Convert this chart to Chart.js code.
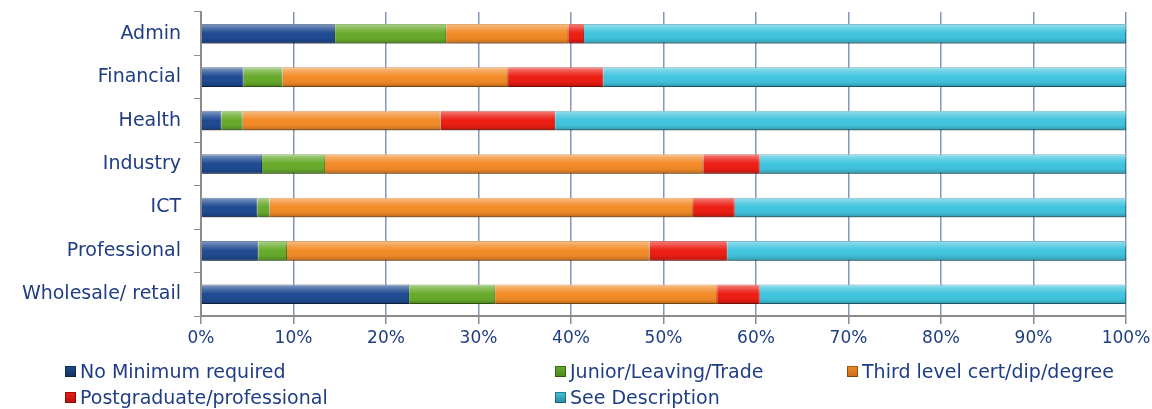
<!DOCTYPE html>
<html>
<head>
<meta charset="utf-8">
<script src="https://cdn.jsdelivr.net/npm/chart.js@4"></script>
<style>
  body { margin: 0; background: #fff; }
  #wrap { position: relative; width: 1152px; height: 409px; }
  .leg { position: absolute; font: 19px "DejaVu Sans", sans-serif; color: #1F3D85; white-space: nowrap; line-height: 22px; }
  .leg i { display: inline-block; width: 11px; height: 11px; margin-right: 4px; vertical-align: 1px; box-shadow: inset 0 0 0 1px rgba(0,0,0,0.35); }
</style>
</head>
<body>
<div id="wrap">
  <canvas id="chart"></canvas>
  <div id="legend"></div>
</div>
<script>
// categories (top to bottom)
const categories = ['Admin', 'Financial', 'Health', 'Industry', 'ICT', 'Professional', 'Wholesale/ retail'];

// series values in %
const noMinimum   = [14.5, 4.6, 2.2, 6.6, 6.1, 6.2, 22.5];
const juniorTrade = [12.0, 4.2, 2.3, 6.8, 1.3, 3.1, 9.3];
const thirdLevel  = [13.2, 24.4, 21.4, 40.9, 45.8, 39.2, 24.0];
const postgrad    = [1.7, 10.3, 12.4, 6.1, 4.5, 8.4, 4.6];
const seeDesc     = [58.6, 56.5, 61.7, 39.6, 42.3, 43.1, 39.6];

const seriesNames = ['No Minimum required', 'Junior/Leaving/Trade', 'Third level cert/dip/degree', 'Postgraduate/professional', 'See Description'];
const seriesColors = ['#1E4A92', '#66AA2A', '#F28A26', '#EC1C12', '#40C4DE'];
const seriesBorders = ['#14315F', '#4C8A1C', '#C86C14', '#B8140C', '#2A8CA4'];

const tickValues = [0, 10, 20, 30, 40, 50, 60, 70, 80, 90, 100];

const textColor = '#1F3D85';
const allSeries = [noMinimum, juniorTrade, thirdLevel, postgrad, seeDesc];

// bevel shading over each bar
const bevel = {
  id: 'bevel',
  beforeDatasetsDraw(chart) {
    chart.ctx.save();
    chart.ctx.shadowColor = 'rgba(0,0,0,0.25)';
    chart.ctx.shadowOffsetY = 4;
    chart.ctx.shadowBlur = 4;
  },
  afterDatasetsDraw(chart) {
    const ctx = chart.ctx;
    ctx.restore();
    chart.data.datasets.forEach((ds, i) => {
      chart.getDatasetMeta(i).data.forEach(bar => {
        const p = bar.getProps(['x', 'y', 'base', 'height'], true);
        const left = Math.min(p.x, p.base), w = Math.abs(p.x - p.base);
        const top = p.y - p.height / 2;
        const g = ctx.createLinearGradient(0, top, 0, top + p.height);
        g.addColorStop(0, 'rgba(255,255,255,0.45)');
        g.addColorStop(0.3, 'rgba(255,255,255,0.15)');
        g.addColorStop(0.5, 'rgba(255,255,255,0)');
        g.addColorStop(0.8, 'rgba(0,0,0,0.05)');
        g.addColorStop(1, 'rgba(0,0,0,0.25)');
        ctx.fillStyle = g;
        ctx.fillRect(left, top, w, p.height);
      });
    });
  }
};

new Chart(document.getElementById('chart'), {
  type: 'bar',
  data: {
    labels: categories,
    datasets: allSeries.map((vals, i) => ({
      label: seriesNames[i],
      data: vals,
      backgroundColor: seriesColors[i],
      borderColor: seriesBorders[i],
      borderWidth: 1,
      categoryPercentage: 1,
      barPercentage: 0.45
    }))
  },
  options: {
    indexAxis: 'y',
    responsive: true,
    maintainAspectRatio: false,
    animation: false,
    layout: { padding: { top: 12, right: 26, left: 0, bottom: 0 } },
    plugins: { legend: { display: false }, tooltip: { enabled: false } },
    scales: {
      x: {
        stacked: true,
        min: 0,
        max: 100,
        afterBuildTicks: s => { s.ticks = tickValues.map(v => ({ value: v })); },
        afterFit: s => { s.height = 93; s.paddingLeft = 0; s.paddingRight = 0; },
        grid: { color: '#8496BA', lineWidth: 1.5, tickColor: '#8c8c8c', tickLength: 8 },
        border: { color: '#8c8c8c', width: 2 },
        ticks: { color: textColor, padding: 4, font: { family: 'DejaVu Sans', size: 17 }, callback: v => v + '%' }
      },
      y: {
        stacked: true,
        afterFit: s => { s.width = 201; s.paddingTop = 0; s.paddingBottom = 0; },
        grid: { drawOnChartArea: false, color: '#8c8c8c', tickLength: 7, offset: true },
        border: { color: '#8c8c8c', width: 2 },
        ticks: { color: textColor, padding: 13, font: { family: 'DejaVu Sans', size: 19 } }
      }
    }
  },
  plugins: [bevel]
});

// legend in three columns, two rows
const legendPos = [[65, 360], [555, 360], [847, 360], [65, 386], [555, 386]];
const legend = document.getElementById('legend');
seriesNames.forEach((name, i) => {
  const d = document.createElement('div');
  d.className = 'leg';
  d.style.left = legendPos[i][0] + 'px';
  d.style.top = legendPos[i][1] + 'px';
  d.innerHTML = '<i style="background:linear-gradient(' + seriesColors[i] + ',' + seriesBorders[i] + ')"></i>' + name;
  legend.appendChild(d);
});
</script>
</body>
</html>
